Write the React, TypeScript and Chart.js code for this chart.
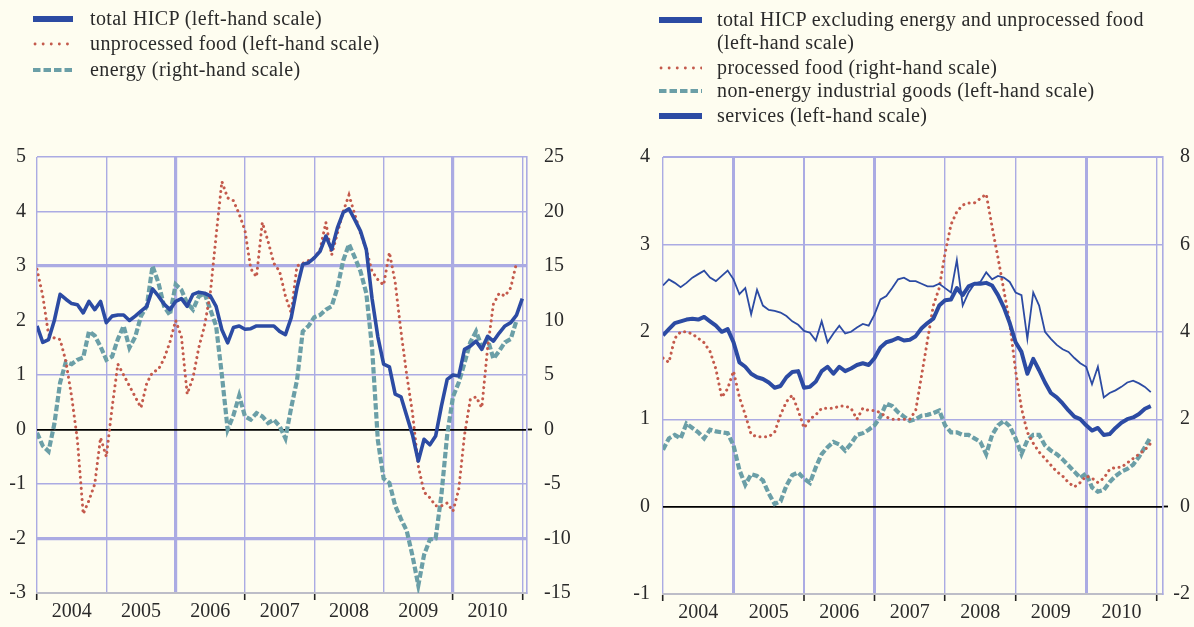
import React, { useEffect, useRef } from "react";
import { Chart, registerables } from "chart.js";

Chart.register(...registerables);

// ---------- data ----------
const yearLabels = ["2004", "2005", "2006", "2007", "2008", "2009", "2010"];
const firstYear = 2004;

// Left panel (monthly, from Jan 2004)
const totalHicp = [
  1.9, 1.6, 1.65, 2.0, 2.48, 2.39, 2.31, 2.29, 2.14, 2.35, 2.2, 2.35,
  1.96, 2.08, 2.1, 2.1, 2.0, 2.08, 2.17, 2.26, 2.58, 2.45, 2.3, 2.2,
  2.35, 2.4, 2.26, 2.48, 2.52, 2.5, 2.45, 2.26, 1.83, 1.59, 1.87, 1.9,
  1.84, 1.85, 1.9, 1.9, 1.9, 1.9, 1.8, 1.74, 2.05, 2.6, 3.03, 3.06,
  3.15, 3.27, 3.55, 3.3, 3.7, 3.98, 4.05, 3.85, 3.64, 3.3, 2.4, 1.7,
  1.2, 1.15, 0.65, 0.6, 0.25, -0.1, -0.58, -0.18, -0.28, -0.12, 0.43, 0.92,
  1.0, 0.98, 1.47, 1.53, 1.62, 1.47, 1.71, 1.62, 1.77, 1.9, 1.96, 2.1, 2.4,
];
const unprocessedFood = [
  2.94, 2.45, 1.74, 1.68, 1.65, 1.25, 0.6, -0.2, -1.55, -1.3, -1.0, -0.15,
  -0.5, 0.4, 1.2, 1.0, 0.8, 0.6, 0.4, 0.85, 1.05, 1.1, 1.3, 1.6,
  2.0, 1.7, 0.65, 0.95, 1.5, 1.9, 2.5, 3.55, 4.55, 4.25, 4.2, 3.95,
  3.65, 2.95, 2.8, 3.8, 3.45, 3.05, 2.9, 2.45, 2.14, 3.0, 3.05, 3.1,
  3.15, 3.3, 3.8, 3.2, 3.6, 4.0, 4.3, 3.95, 3.6, 3.3, 2.9, 2.75,
  2.65, 3.25, 2.7, 1.8, 1.0, 0.3, -0.67, -1.15, -1.25, -1.4, -1.4, -1.35,
  -1.5, -1.1, -0.1, 0.55, 0.6, 0.4, 1.5, 2.3, 2.5, 2.45, 2.6, 3.06,
];
const energy = [
  -0.3, -1.5, -2.0, 0.5, 4.3, 6.2, 6.0, 6.4, 6.6, 9.0, 8.6, 7.6,
  6.4, 6.7, 8.3, 9.5, 7.5, 8.5, 10.4, 11.3, 15.0, 13.5, 11.3, 10.5,
  13.3, 12.8, 11.6, 11.0, 12.2, 12.5, 11.0, 9.5, 5.0, 0.0, 1.3, 3.1,
  1.2, 0.9, 1.5, 1.2, 0.6, 0.9, 0.3, -0.8, 2.0, 4.5, 9.0, 9.5,
  10.3, 10.5, 11.0, 11.3, 13.0, 15.5, 17.0, 15.8, 14.5, 12.5, 7.5, -1.0,
  -4.5, -4.9, -7.0, -8.2, -9.3, -11.6, -14.3, -11.5, -10.1, -10.0, -6.0, -0.5,
  3.0, 4.3, 6.1, 8.0, 9.0, 7.6, 8.3, 6.5, 7.2, 8.0, 8.3, 10.0,
];

// Right panel (monthly, from Jan 2004)
const hicpExEnergyUnprocFood = [
  1.96, 2.03, 2.1, 2.12, 2.14, 2.15, 2.14, 2.17, 2.12, 2.07, 2.0, 2.03,
  1.88, 1.65, 1.6, 1.52, 1.48, 1.46, 1.42, 1.36, 1.38, 1.48, 1.54, 1.55,
  1.36, 1.37, 1.43, 1.55, 1.6, 1.52, 1.6, 1.55, 1.58, 1.62, 1.64, 1.62,
  1.7, 1.82, 1.88, 1.9, 1.93, 1.9, 1.91, 1.95, 2.04, 2.1, 2.15, 2.3,
  2.36, 2.37, 2.5, 2.42, 2.52, 2.55, 2.55, 2.56, 2.53, 2.42, 2.28, 2.1,
  1.88, 1.77, 1.52, 1.69, 1.56, 1.42, 1.3, 1.25, 1.18, 1.1, 1.03, 1.0,
  0.93, 0.87, 0.9, 0.82, 0.83, 0.9, 0.96, 1.0, 1.02, 1.06, 1.12, 1.15,
];
const processedFood = [
  3.4, 3.3, 3.85, 4.0, 4.0, 3.95, 3.85, 3.75, 3.55, 3.15, 2.5, 2.7,
  3.1, 2.5, 2.1, 1.65, 1.6, 1.6, 1.6, 1.7, 2.1, 2.4, 2.55, 2.2,
  1.8, 2.0, 2.1, 2.25, 2.25, 2.25, 2.3, 2.3, 2.25, 2.0, 2.25, 2.2,
  2.2, 2.15, 2.05, 2.0, 2.0, 2.0, 2.0, 2.2, 3.0, 3.8, 4.6, 5.0,
  5.8, 6.45, 6.75, 6.9, 6.95, 6.95, 7.05, 7.15, 6.4, 5.7, 4.95, 4.2,
  3.1, 2.25, 1.7, 1.45, 1.25, 1.1, 0.95, 0.8, 0.7, 0.55, 0.45, 0.55,
  0.7, 0.65, 0.55, 0.65, 0.85, 0.9, 0.9, 1.0, 1.1, 1.2, 1.3, 1.45,
];
const nonEnergyGoods = [
  0.65, 0.78, 0.82, 0.78, 0.95, 0.9, 0.85, 0.78, 0.88, 0.86, 0.85, 0.84,
  0.7, 0.42, 0.25, 0.37, 0.35, 0.3, 0.15, 0.03, 0.06, 0.24, 0.36, 0.39,
  0.32, 0.27, 0.45, 0.6, 0.68, 0.74, 0.71, 0.64, 0.72, 0.82, 0.84, 0.88,
  0.93, 1.03, 1.18, 1.15, 1.08, 1.03, 0.98, 1.0, 1.04, 1.05, 1.07, 1.1,
  0.93, 0.85, 0.85, 0.82, 0.82, 0.78, 0.74, 0.6, 0.82, 0.93, 0.98, 0.92,
  0.78, 0.6, 0.76, 0.82, 0.82, 0.7, 0.64, 0.6, 0.54, 0.47, 0.4, 0.33,
  0.38, 0.22, 0.17, 0.19, 0.28, 0.35, 0.4, 0.43, 0.48, 0.57, 0.68, 0.8,
];
const services = [
  2.53, 2.6, 2.56, 2.51, 2.56, 2.62, 2.66, 2.7, 2.62, 2.58, 2.64, 2.7,
  2.6, 2.43, 2.5, 2.2, 2.48, 2.3, 2.25, 2.24, 2.22, 2.18, 2.12, 2.08,
  2.01, 1.99, 1.9, 2.12, 1.88, 1.98, 2.07, 1.98, 2.0, 2.05, 2.09, 2.07,
  2.2, 2.37, 2.41, 2.5, 2.6, 2.62, 2.58, 2.58, 2.55, 2.52, 2.52, 2.55,
  2.5, 2.45, 2.82, 2.3, 2.45, 2.55, 2.57, 2.68, 2.6, 2.64, 2.62, 2.57,
  2.45, 2.42, 1.92, 2.45, 2.3, 2.0, 1.92, 1.85, 1.8, 1.77, 1.7, 1.64,
  1.6, 1.4, 1.6, 1.25, 1.3, 1.33, 1.37, 1.42, 1.44, 1.41, 1.37, 1.31,
];

// ---------- style ----------
const FONT = "'Liberation Serif', 'Times New Roman', serif";
const BG = "#fefdf0";
const GRID = "#ababe3";
const BLUE = "#2c4ba3";
const RED = "#c45a4c";
const TEAL = "#6b9fa7";
const TEXT = "#2a2a2a";

const toPoints = (arr: number[]) =>
  arr.map((v, i) => ({ x: firstYear + i / 12, y: v }));

type PanelCfg = {
  datasets: any[];
  xMax: number;
  yMin: number;
  yMax: number;
  yStep: number;
  y1Min: number;
  y1Max: number;
  y1Step: number;
  yWidth: number;
  y1Width: number;
  rightPad: number;
  xHeight: number;
  yPad: number;
  y1Pad: number;
  y1Align: "near" | "far";
  xThick: Record<number, number>;
  yThick: Record<number, number>;
  xTickShown: number[];
};

function buildConfig(p: PanelCfg): any {
  const lastGridIdx = yearLabels.length;
  const tickFont = { family: FONT, size: 20 };
  return {
    type: "line",
    data: { datasets: p.datasets },
    options: {
      animation: false,
      responsive: false,
      devicePixelRatio: 1,
      layout: { padding: { top: 157, left: 0, right: p.rightPad, bottom: 0 } },
      plugins: { legend: { display: false }, tooltip: { enabled: false } },
      elements: { point: { radius: 0 }, line: { tension: 0 } },
      scales: {
        x: {
          type: "linear",
          min: firstYear,
          max: p.xMax,
          afterBuildTicks: (axis: any) => {
            axis.ticks = yearLabels.map((_, k) => ({ value: firstYear + 0.5 + k }));
          },
          afterFit: (axis: any) => {
            axis.height = p.xHeight;
          },
          grid: {
            offset: true,
            color: GRID,
            lineWidth: (ctx: any) => {
              const idx = ctx.type === "tick" ? ctx.index : lastGridIdx;
              return p.xThick[idx] ?? 1.4;
            },
            drawTicks: true,
            tickLength: 7,
            tickWidth: 1.6,
            tickColor: (ctx: any) => {
              const idx = ctx.type === "tick" ? ctx.index : lastGridIdx;
              return p.xTickShown.includes(idx) ? "#222" : "rgba(0,0,0,0)";
            },
          },
          border: { display: true, color: "#bdbdc8", width: 2 },
          ticks: {
            autoSkip: false,
            maxRotation: 0,
            padding: 0,
            color: TEXT,
            font: tickFont,
            callback: (_v: any, i: number) => yearLabels[i],
          },
        },
        y: {
          position: "left",
          min: p.yMin,
          max: p.yMax,
          afterFit: (axis: any) => {
            axis.width = p.yWidth;
          },
          grid: {
            drawTicks: false,
            color: (ctx: any) => {
              const v = ctx.tick?.value;
              if (v === 0) return "#000";
              if (v === p.yMin) return "rgba(0,0,0,0)";
              return GRID;
            },
            lineWidth: (ctx: any) => {
              const v = ctx.tick?.value;
              if (v === 0) return 1.8;
              return p.yThick[v] ?? 1.4;
            },
          },
          border: { display: false },
          ticks: { stepSize: p.yStep, padding: p.yPad, color: TEXT, font: tickFont },
        },
        y1: {
          position: "right",
          min: p.y1Min,
          max: p.y1Max,
          afterFit: (axis: any) => {
            axis.width = p.y1Width;
          },
          grid: {
            drawOnChartArea: false,
            drawTicks: true,
            tickLength: 5,
            tickWidth: 1.8,
            tickColor: (ctx: any) =>
              ctx.tick && ctx.tick.value === 0 ? "#000" : "rgba(0,0,0,0)",
          },
          border: { display: true, color: GRID, width: 1.6 },
          ticks: {
            stepSize: p.y1Step,
            padding: p.y1Pad,
            crossAlign: p.y1Align,
            color: TEXT,
            font: tickFont,
          },
        },
      },
    },
  };
}

const leftConfig = () =>
  buildConfig({
    datasets: [
      {
        label: "total HICP (left-hand scale)",
        data: toPoints(totalHicp),
        yAxisID: "y",
        borderColor: BLUE,
        borderWidth: 3.6,
        borderJoinStyle: "round",
      },
      {
        label: "unprocessed food (left-hand scale)",
        data: toPoints(unprocessedFood),
        yAxisID: "y",
        borderColor: RED,
        borderWidth: 3,
        borderDash: [0.1, 5.5],
        borderCapStyle: "round",
      },
      {
        label: "energy (right-hand scale)",
        data: toPoints(energy),
        yAxisID: "y1",
        borderColor: TEAL,
        borderWidth: 4.2,
        borderDash: [6.5, 2.5],
      },
    ],
    xMax: 2011.068,
    yMin: -3,
    yMax: 5,
    yStep: 1,
    y1Min: -15,
    y1Max: 25,
    y1Step: 5,
    yWidth: 37,
    y1Width: 70,
    rightPad: 0,
    xHeight: 34,
    yPad: 11,
    y1Pad: 12,
    y1Align: "near",
    xThick: { 2: 3.2, 6: 3.2 },
    yThick: { 3: 3.2, [-2]: 3.2 },
    xTickShown: [0, 3, 4, 6, 7],
  });

const rightConfig = () =>
  buildConfig({
    datasets: [
      {
        label: "total HICP excluding energy and unprocessed food (left-hand scale)",
        data: toPoints(hicpExEnergyUnprocFood),
        yAxisID: "y",
        borderColor: BLUE,
        borderWidth: 4,
        borderJoinStyle: "round",
      },
      {
        label: "services (left-hand scale)",
        data: toPoints(services),
        yAxisID: "y",
        borderColor: BLUE,
        borderWidth: 1.8,
      },
      {
        label: "processed food (right-hand scale)",
        data: toPoints(processedFood),
        yAxisID: "y1",
        borderColor: RED,
        borderWidth: 3,
        borderDash: [0.1, 5.5],
        borderCapStyle: "round",
      },
      {
        label: "non-energy industrial goods (left-hand scale)",
        data: toPoints(nonEnergyGoods),
        yAxisID: "y",
        borderColor: TEAL,
        borderWidth: 4.2,
        borderDash: [6.5, 2.5],
      },
    ],
    xMax: 2011.09,
    yMin: -1,
    yMax: 4,
    yStep: 1,
    y1Min: -2,
    y1Max: 8,
    y1Step: 2,
    yWidth: 66,
    y1Width: 27,
    rightPad: 4,
    xHeight: 33,
    yPad: 13,
    y1Pad: 5,
    y1Align: "far",
    xThick: { 1: 3.0, 2: 2.0, 3: 3.0, 6: 3.0 },
    yThick: { 4: 2.0 },
    xTickShown: [0, 2, 3, 4, 5, 7],
  });

// ---------- components ----------
function ChartCanvas({ left, makeConfig }: { left: number; makeConfig: () => any }) {
  const ref = useRef<HTMLCanvasElement | null>(null);
  useEffect(() => {
    if (!ref.current) return;
    const chart = new Chart(ref.current, makeConfig());
    return () => chart.destroy();
  }, [makeConfig]);
  return (
    <canvas
      ref={ref}
      width={597}
      height={627}
      style={{ position: "absolute", left, top: 0, width: 597, height: 627 }}
    />
  );
}

type Kind = "solid" | "dotted" | "dashed";

function Sample({ kind, x, y, w }: { kind: Kind; x: number; y: number; w: number }) {
  const common = { x1: 0, x2: w, y1: 5, y2: 5 };
  let line;
  if (kind === "solid") line = <line {...common} stroke={BLUE} strokeWidth={6} />;
  else if (kind === "dotted")
    line = (
      <line {...common} x1={2} stroke={RED} strokeWidth={2.8} strokeDasharray="0.1 8" strokeLinecap="round" />
    );
  else line = <line {...common} stroke={TEAL} strokeWidth={4} strokeDasharray="7.5 3" />;
  return (
    <svg width={w} height={10} style={{ position: "absolute", left: x, top: y - 5 }}>
      {line}
    </svg>
  );
}

type LegendRow = { kind?: Kind; text: string; y: number };

function Legend({ rows, sampleX, sampleW, textX }: { rows: LegendRow[]; sampleX: number; sampleW: number; textX: number }) {
  return (
    <>
      {rows.map((r, i) => (
        <React.Fragment key={i}>
          {r.kind ? <Sample kind={r.kind} x={sampleX} y={r.y} w={sampleW} /> : null}
          <div
            style={{
              position: "absolute",
              left: textX,
              top: r.y - 14,
              height: 26,
              lineHeight: "26px",
              fontFamily: FONT,
              fontSize: 20,
              letterSpacing: 0.4,
              color: TEXT,
              whiteSpace: "nowrap",
            }}
          >
            {r.text}
          </div>
        </React.Fragment>
      ))}
    </>
  );
}

const leftLegendRows: LegendRow[] = [
  { kind: "solid", text: "total HICP (left-hand scale)", y: 19 },
  { kind: "dotted", text: "unprocessed food (left-hand scale)", y: 44 },
  { kind: "dashed", text: "energy (right-hand scale)", y: 70 },
];

const rightLegendRows: LegendRow[] = [
  { kind: "solid", text: "total HICP excluding energy and unprocessed food", y: 20 },
  { text: "(left-hand scale)", y: 43 },
  { kind: "dotted", text: "processed food (right-hand scale)", y: 68 },
  { kind: "dashed", text: "non-energy industrial goods (left-hand scale)", y: 91 },
  { kind: "solid", text: "services (left-hand scale)", y: 116 },
];

export default function App() {
  return (
    <div
      style={{
        position: "absolute",
        left: 0,
        top: 0,
        width: 1194,
        height: 627,
        background: BG,
        overflow: "hidden",
      }}
    >
      <ChartCanvas left={0} makeConfig={leftConfig} />
      <ChartCanvas left={597} makeConfig={rightConfig} />
      <Legend rows={leftLegendRows} sampleX={33} sampleW={40} textX={90} />
      <Legend rows={rightLegendRows} sampleX={659} sampleW={43} textX={717} />
    </div>
  );
}
